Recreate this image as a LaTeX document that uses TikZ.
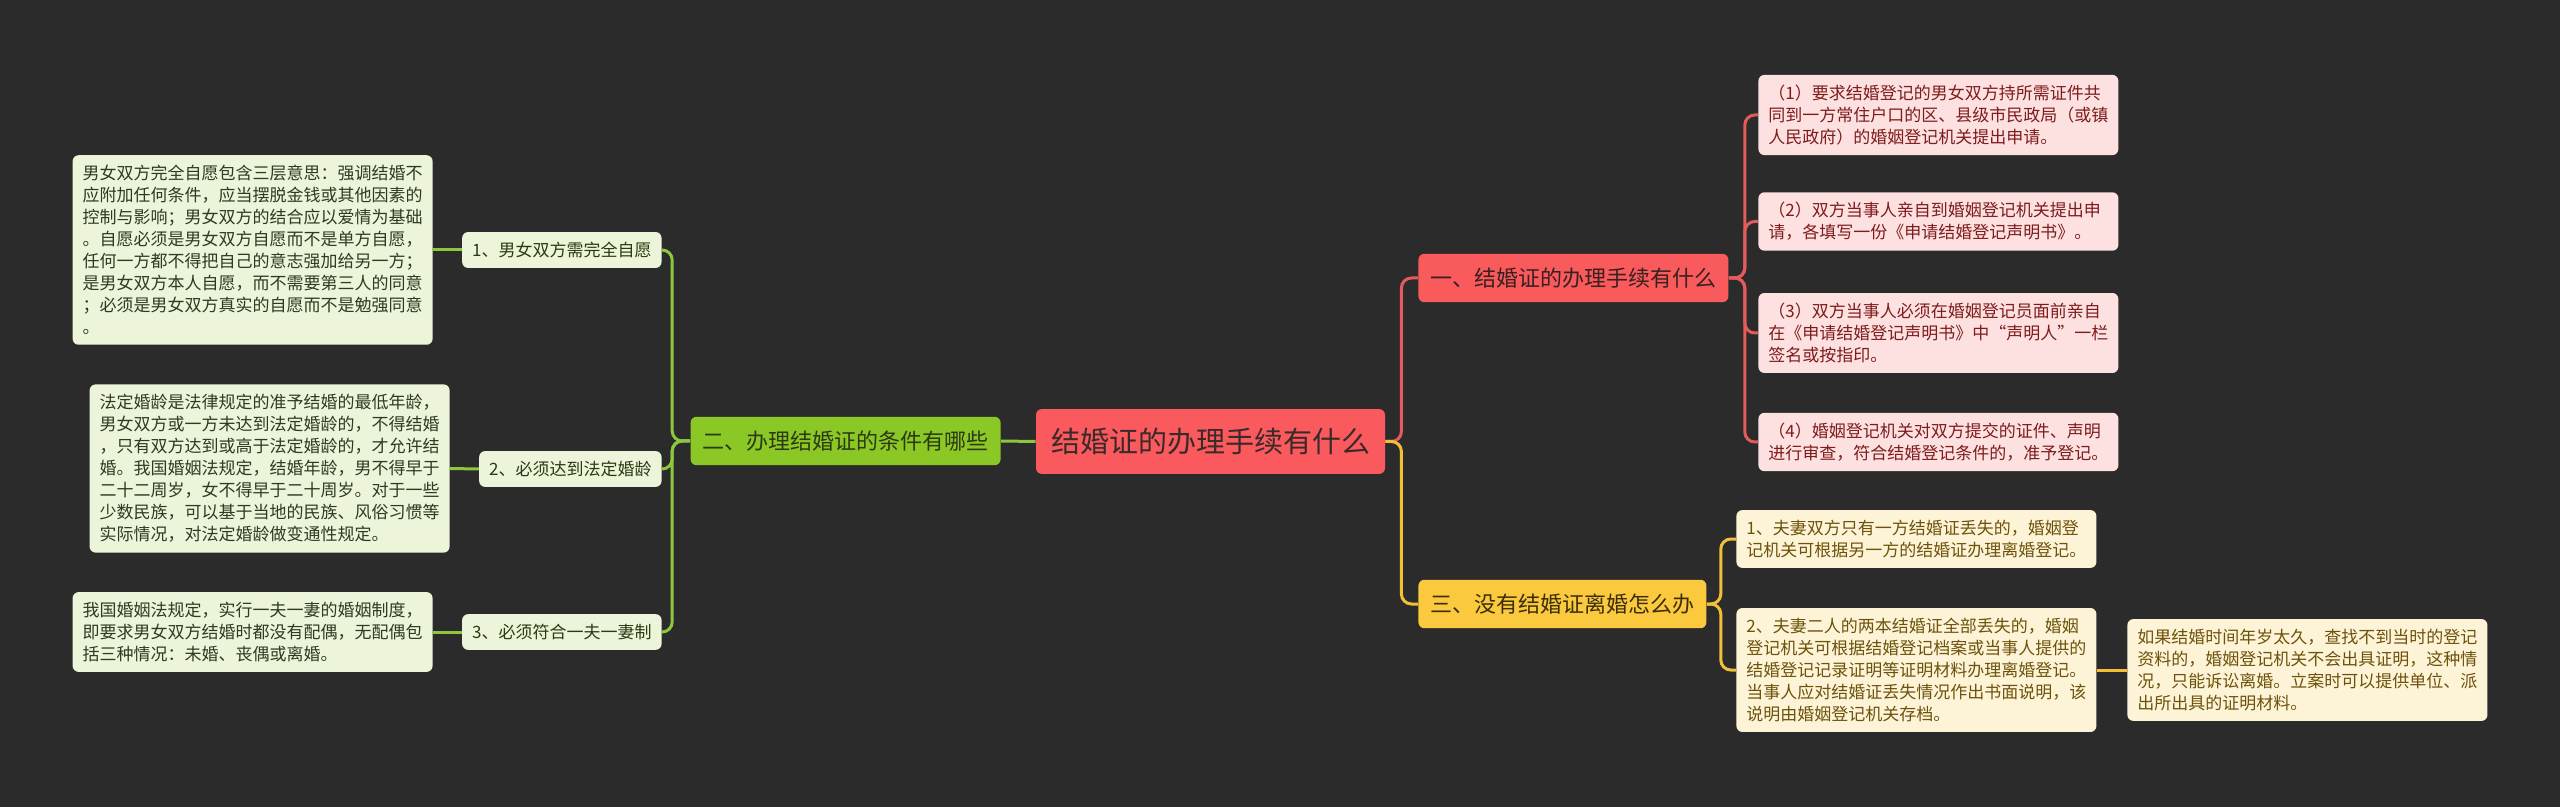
\documentclass[tikz,border=0pt]{standalone}
\usepackage{fontspec}
\setmainfont{Noto Sans CJK SC}

\definecolor{bgcol}{HTML}{2B2B2B}
\definecolor{rootfill}{HTML}{FA5A5D}
\definecolor{roottext}{HTML}{3A2A2A}
\definecolor{redmain}{HTML}{F95A5C}
\definecolor{reddark}{HTML}{3A2020}
\definecolor{redpale}{HTML}{FDE1E1}
\definecolor{redtext}{HTML}{7E1B1B}
\definecolor{redline}{HTML}{E35B5B}
\definecolor{greenmain}{HTML}{8BC826}
\definecolor{greendark}{HTML}{2C3A12}
\definecolor{greenpale}{HTML}{ECF4DA}
\definecolor{greentext}{HTML}{2E3A22}
\definecolor{greenline}{HTML}{8DC63F}
\definecolor{yellowmain}{HTML}{FBC93D}
\definecolor{yellowdark}{HTML}{3C2E0A}
\definecolor{yellowpale}{HTML}{FDF4D7}
\definecolor{yellowtext}{HTML}{6E520C}
\definecolor{yellowline}{HTML}{F2C037}

\begin{document}
\begin{tikzpicture}[
    x=0.5pt,
    y=-0.5pt,
    topic/.style={
        rounded corners=3pt,
        font=\fontsize{11}{13}\selectfont,
        inner xsep=6pt,
        inner ysep=7pt
    },
    item/.style={
        rounded corners=3pt,
        font=\fontsize{8.5}{11}\selectfont,
        inner xsep=5pt,
        inner ysep=5pt
    },
    note/.style={
        item,
        text width=170pt,
        align=left
    },
    link/.style={
        line width=1.5pt,
        rounded corners=5pt
    }
]

% Background
\path[use as bounding box, fill=bgcol] (0,0) rectangle (2560,807);

% Central topic
\node[
    rounded corners=3pt,
    fill=rootfill,
    text=roottext,
    font=\fontsize{14.5}{17}\selectfont,
    inner xsep=7.5pt,
    inner ysep=9.5pt
] (root) at (1210.5,441.5) {结婚证的办理手续有什么};

% Main branches
\node[topic, fill=greenmain, text=greendark, anchor=east] (cond) at (1001,441) {二、办理结婚证的条件有哪些};
\node[topic, fill=redmain, text=reddark, anchor=west] (proc) at (1418,278) {一、结婚证的办理手续有什么};
\node[topic, fill=yellowmain, text=yellowdark, anchor=west] (lost) at (1418,604) {三、没有结婚证离婚怎么办};

% Left side: conditions
\foreach \name/\y/\label in {
    c1/250/1、男女双方需完全自愿,
    c2/469/2、必须达到法定婚龄,
    c3/632/3、必须符合一夫一妻制
}{
    \node[item, fill=greenpale, text=greendark, anchor=east] (\name) at (662,\y) {\label};
}

\node[note, fill=greenpale, text=greentext, anchor=east] (g1) at (433,250) {
男女双方完全自愿包含三层意思：强调结婚不\\
应附加任何条件，应当摆脱金钱或其他因素的\\
控制与影响；男女双方的结合应以爱情为基础\\
。自愿必须是男女双方自愿而不是单方自愿，\\
任何一方都不得把自己的意志强加给另一方；\\
是男女双方本人自愿，而不需要第三人的同意\\
；必须是男女双方真实的自愿而不是勉强同意\\
。};

\node[note, fill=greenpale, text=greentext, anchor=east] (g2) at (450,468.5) {
法定婚龄是法律规定的准予结婚的最低年龄，\\
男女双方或一方未达到法定婚龄的，不得结婚\\
，只有双方达到或高于法定婚龄的，才允许结\\
婚。我国婚姻法规定，结婚年龄，男不得早于\\
二十二周岁，女不得早于二十周岁。对于一些\\
少数民族，可以基于当地的民族、风俗习惯等\\
实际情况，对法定婚龄做变通性规定。};

\node[note, fill=greenpale, text=greentext, anchor=east] (g3) at (433,632) {
我国婚姻法规定，实行一夫一妻的婚姻制度，\\
即要求男女双方结婚时都没有配偶，无配偶包\\
括三种情况：未婚、丧偶或离婚。};

% Right side: procedure
\node[note, fill=redpale, text=redtext, anchor=west] (r1) at (1758,115) {
（1）要求结婚登记的男女双方持所需证件共\\
同到一方常住户口的区、县级市民政局（或镇\\
人民政府）的婚姻登记机关提出申请。};

\node[note, fill=redpale, text=redtext, anchor=west] (r2) at (1758,221.5) {
（2）双方当事人亲自到婚姻登记机关提出申\\
请，各填写一份《申请结婚登记声明书》。};

\node[note, fill=redpale, text=redtext, anchor=west] (r3) at (1758,333) {
（3）双方当事人必须在婚姻登记员面前亲自\\
在《申请结婚登记声明书》中“声明人”一栏\\
签名或按指印。};

\node[note, fill=redpale, text=redtext, anchor=west] (r4) at (1758,442) {
（4）婚姻登记机关对双方提交的证件、声明\\
进行审查，符合结婚登记条件的，准予登记。};

% Right side: lost certificate
\node[note, fill=yellowpale, text=yellowtext, anchor=west] (y1) at (1736,539) {
1、夫妻双方只有一方结婚证丢失的，婚姻登\\
记机关可根据另一方的结婚证办理离婚登记。};

\node[note, fill=yellowpale, text=yellowtext, anchor=west] (y2) at (1736,670) {
2、夫妻二人的两本结婚证全部丢失的，婚姻\\
登记机关可根据结婚登记档案或当事人提供的\\
结婚登记记录证明等证明材料办理离婚登记。\\
当事人应对结婚证丢失情况作出书面说明，该\\
说明由婚姻登记机关存档。};

\node[note, fill=yellowpale, text=yellowtext, anchor=west] (y3) at (2127,670) {
如果结婚时间年岁太久，查找不到当时的登记\\
资料的，婚姻登记机关不会出具证明，这种情\\
况，只能诉讼离婚。立案时可以提供单位、派\\
出所出具的证明材料。};

% Connectors
\draw[link, draw=greenline] (root.west) -- (cond.east);
\foreach \name in {c1,c2,c3}
    \draw[link, draw=greenline] (cond.west) -- ++(-18,0) |- (\name.east);
\foreach \a/\b in {c1/g1,c2/g2,c3/g3}
    \draw[link, draw=greenline] (\a.west) -- (\b.east);

\draw[link, draw=redline] (root.east) -- ++(16,0) |- (proc.west);
\draw[link, draw=yellowline] (root.east) -- ++(16,0) |- (lost.west);

\foreach \name in {r1,r2,r3,r4}
    \draw[link, draw=redline] (proc.east) -- ++(16,0) |- (\name.west);

\foreach \name in {y1,y2}
    \draw[link, draw=yellowline] (lost.east) -- ++(14,0) |- (\name.west);
\draw[link, draw=yellowline] (y2.east) -- (y3.west);
\end{tikzpicture}
\end{document}
